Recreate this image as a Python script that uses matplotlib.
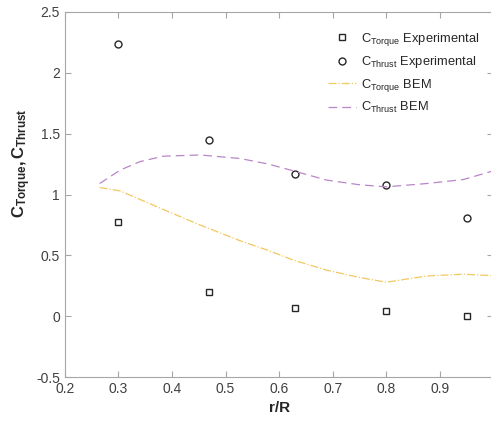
import numpy as np
from matplotlib import pyplot as plt

plt.rcParams['font.family'] = ['Liberation Sans', 'DejaVu Sans']
plt.rcParams['mathtext.fontset'] = 'custom'
plt.rcParams['mathtext.rm'] = 'Liberation Sans'
plt.rcParams['mathtext.it'] = 'Liberation Sans'
plt.rcParams['mathtext.bf'] = 'Liberation Sans:bold'

# experimental points
r_exp = [0.3, 0.47, 0.63, 0.8, 0.95]
ctorque_exp = [0.77, 0.20, 0.07, 0.04, 0.00]
cthrust_exp = [2.24, 1.45, 1.17, 1.08, 0.81]

# BEM curves
r_bem = [0.265, 0.303, 0.34, 0.384, 0.452, 0.527, 0.58, 0.627, 0.689, 0.75, 0.80, 0.875, 0.944, 0.993, 1.0]
cthrust_bem = [1.09, 1.20, 1.27, 1.315, 1.325, 1.296, 1.25, 1.194, 1.118, 1.08, 1.063, 1.09, 1.123, 1.186, 1.195]
ctorque_bem = [1.057, 1.03, 0.96, 0.877, 0.75, 0.62, 0.54, 0.46, 0.378, 0.318, 0.279, 0.33, 0.345, 0.334, 0.333]

axcol = '#a6a6a6'
txtcol = '#404040'

fig = plt.figure(figsize=(4.91, 4.21), dpi=100)
ax = fig.add_axes([0.132, 0.1045, 0.873, 0.867])

ax.plot(r_exp, ctorque_exp, 's', ms=4.5, mfc='none', mec='#262626', mew=1.0,
        label=r'C$_{Torque}$ Experimental')
ax.plot(r_exp, cthrust_exp, 'o', ms=5, mfc='none', mec='#262626', mew=1.0,
        label=r'C$_{Thrust}$ Experimental')
ax.plot(r_bem, ctorque_bem, '-.', color='#f2c860', lw=0.9, label=r'C$_{Torque}$ BEM')
ax.plot(r_bem, cthrust_bem, '--', color='#b886c8', lw=0.9, dashes=(7, 4), label=r'C$_{Thrust}$ BEM')

ax.set_xlim(0.2, 1.0)
ax.set_ylim(-0.5, 2.5)
ax.set_xticks(np.arange(0.2, 1.01, 0.1))
ax.set_xticklabels(['0.2', '0.3', '0.4', '0.5', '0.6', '0.7', '0.8', '0.9', '1'])
ax.set_yticks(np.arange(-0.5, 2.51, 0.5))
ax.set_yticklabels(['-0.5', '0', '0.5', '1', '1.5', '2', '2.5'])

ax.tick_params(direction='in', top=True, right=True, length=4, width=0.8,
               color=axcol, labelcolor=txtcol, labelsize=10)
for s in ax.spines.values():
    s.set_color(axcol)
    s.set_linewidth(0.8)

ax.set_xlabel('r/R', fontsize=11, fontweight='bold', color='#262626')
ax.set_ylabel(r'$\mathbf{C_{Torque}, C_{Thrust}}$', fontsize=12, color='#262626')
ax.yaxis.set_label_coords(-0.075, 0.586)

leg = ax.legend(loc='upper right', bbox_to_anchor=(0.995, 0.98), frameon=False,
                fontsize=9.3, handlelength=2.2, handletextpad=0.4, labelspacing=0.5)
for t in leg.get_texts():
    t.set_color('#262626')

fig.savefig('out.png', dpi=100)
